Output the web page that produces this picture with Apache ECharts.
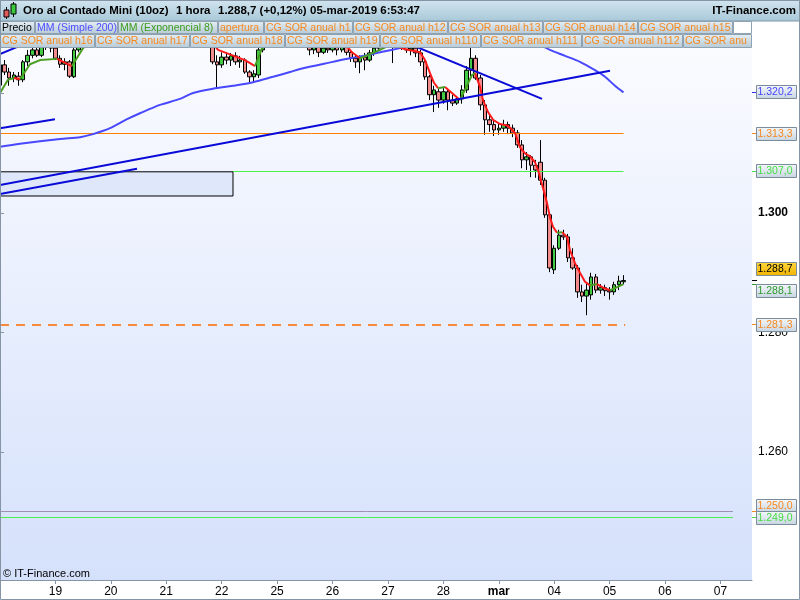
<!DOCTYPE html>
<html><head><meta charset="utf-8">
<script src="https://cdn.jsdelivr.net/npm/echarts@6/dist/echarts.min.js"></script>
<style>html,body{margin:0;padding:0;background:#fff}#c{width:800px;height:600px}</style>
</head><body><div id="c"></div>
<script>
// ---------------- DATA ----------------
const dayLabels = ['18','19','20','21','22','25','26','27','28','mar','04','05','06','07'];
const dayTicks = [1,2,3,4,5,6,7,8,9,10,11,12,13];
const barsPerDay = 12;
// [open, close, low, high]
const candles = [
[1321.4,1324.8,1320.9,1325.3],[1324.8,1323.6,1323.1,1325.6],[1323.6,1322.6,1321.3,1324.3],[1322.6,1323.1,1321.9,1323.6],
[1322.9,1322.3,1321.3,1323.6],[1322.3,1325.3,1321.9,1325.6],[1325.3,1326.4,1324.6,1327.3],[1326.4,1327.3,1325.9,1328.1],
[1327.3,1326.4,1326.1,1328.3],[1326.4,1328.1,1326.1,1329.0],[1328.1,1329.0,1327.3,1329.8],[1329.0,1327.6,1326.9,1329.6],
[1327.6,1325.9,1325.6,1328.1],[1325.9,1324.9,1324.3,1326.4],[1324.9,1325.3,1323.9,1325.9],[1325.3,1322.9,1322.6,1325.6],
[1322.8,1327.3,1322.6,1328.0],[1327.3,1329.0,1326.9,1329.8],[1329.0,1329.8,1328.4,1330.4],[1329.8,1329.4,1328.8,1330.6],
[1329.4,1330.5,1329.0,1331.0],[1330.5,1331.2,1330.0,1331.8],[1331.2,1330.8,1330.2,1331.6],[1330.8,1331.8,1330.4,1332.4],
[1331.8,1332.6,1331.2,1333.0],[1332.6,1332.0,1331.4,1333.2],[1332.0,1333.0,1331.6,1333.6],[1333.0,1333.8,1332.4,1334.4],
[1333.8,1333.2,1332.6,1334.2],[1333.2,1334.0,1332.8,1334.6],[1334.0,1333.4,1332.6,1334.4],[1333.4,1332.6,1332.0,1333.8],
[1332.6,1333.0,1331.8,1333.6],[1333.0,1332.2,1331.6,1333.4],[1332.2,1331.6,1331.0,1332.6],[1331.6,1332.0,1331.0,1332.6],
[1332.0,1331.2,1330.6,1332.4],[1331.2,1330.6,1330.0,1331.6],[1330.6,1331.0,1330.0,1331.6],[1331.0,1330.4,1329.8,1331.4],
[1330.4,1329.8,1329.2,1330.8],[1329.8,1330.2,1329.2,1330.8],[1330.2,1329.6,1329.0,1330.6],[1329.6,1329.0,1328.4,1330.0],
[1329.0,1329.4,1328.4,1330.0],[1329.4,1328.1,1327.9,1329.8],[1328.1,1325.3,1324.9,1329.0],[1325.3,1324.8,1320.9,1326.4],
[1324.8,1326.1,1324.3,1326.9],[1326.1,1325.6,1324.9,1326.9],[1325.6,1326.3,1324.6,1326.8],[1326.3,1325.3,1324.8,1326.9],
[1325.3,1325.6,1324.3,1326.3],[1325.6,1323.6,1323.3,1325.9],[1323.6,1322.8,1321.6,1323.9],[1322.8,1323.3,1321.8,1323.9],
[1323.1,1327.3,1322.6,1328.1],[1327.3,1329.0,1326.9,1329.8],[1329.0,1329.8,1328.4,1330.4],[1329.8,1330.6,1329.2,1331.2],
[1330.6,1330.0,1329.4,1331.2],[1330.0,1331.0,1329.6,1331.6],[1331.0,1330.4,1329.8,1331.4],[1330.4,1329.6,1329.0,1330.8],
[1329.6,1330.0,1328.8,1330.6],[1330.0,1329.2,1328.6,1330.4],[1329.2,1328.1,1327.8,1329.6],[1328.1,1327.3,1326.4,1329.0],
[1327.3,1327.8,1326.6,1328.3],[1327.8,1326.9,1326.1,1328.3],[1326.9,1327.6,1326.6,1328.1],[1327.6,1327.3,1326.8,1328.3],
[1327.3,1328.0,1326.9,1328.6],[1328.0,1327.3,1326.4,1328.6],[1327.3,1328.1,1326.9,1329.0],[1328.1,1326.9,1326.4,1328.6],
[1326.9,1325.9,1325.3,1327.3],[1325.9,1325.3,1324.3,1326.4],[1325.3,1326.1,1323.4,1326.4],[1326.1,1325.6,1323.9,1326.8],
[1325.6,1326.8,1325.3,1327.3],[1326.8,1327.6,1326.3,1328.3],[1327.6,1328.6,1327.3,1329.3],[1328.6,1329.2,1328.0,1329.8],
[1329.2,1328.8,1327.8,1329.8],[1328.8,1328.1,1325.1,1329.6],[1328.1,1328.6,1327.6,1329.3],[1328.6,1328.0,1327.3,1329.3],
[1328.0,1327.3,1326.8,1328.6],[1327.3,1327.6,1326.4,1328.1],[1327.6,1326.8,1326.1,1328.1],[1326.8,1325.3,1324.6,1327.3],
[1325.3,1322.8,1322.3,1325.6],[1322.8,1319.8,1318.9,1323.1],[1319.8,1320.6,1316.9,1321.3],[1320.3,1318.9,1317.6,1320.9],
[1318.9,1320.3,1318.3,1320.9],[1320.3,1318.9,1317.2,1320.6],[1318.9,1318.4,1317.9,1319.8],[1318.4,1319.1,1318.1,1319.6],
[1319.1,1320.6,1318.3,1321.4],[1320.6,1323.9,1320.1,1324.6],[1323.9,1325.9,1322.9,1327.8],[1325.9,1322.6,1322.3,1326.4],
[1322.6,1318.1,1317.2,1323.1],[1318.1,1315.6,1313.1,1318.9],[1315.6,1314.8,1313.6,1316.4],[1314.8,1313.9,1312.9,1315.6],
[1313.9,1314.2,1313.1,1314.9],[1314.2,1314.8,1313.6,1315.6],[1314.8,1314.2,1313.2,1315.3],[1314.2,1313.4,1312.7,1314.8],
[1313.4,1311.4,1310.9,1313.9],[1311.4,1308.9,1307.5,1312.2],[1308.9,1309.4,1307.2,1310.2],[1309.4,1308.0,1306.0,1309.7],
[1308.0,1307.2,1305.9,1308.9],[1308.5,1305.5,1304.7,1312.2],[1305.5,1299.7,1299.2,1305.9],[1299.7,1290.8,1290.1,1300.0],
[1290.5,1294.1,1289.8,1294.6],[1294.1,1296.3,1293.8,1297.2],[1296.3,1296.0,1295.5,1297.2],[1296.0,1292.5,1291.8,1296.5],
[1292.5,1290.8,1290.5,1294.1],[1290.8,1286.8,1285.8,1291.3],[1286.8,1286.1,1285.1,1288.0],[1286.1,1287.1,1282.9,1288.3],
[1286.3,1289.3,1285.5,1290.0],[1289.3,1287.1,1286.6,1289.8],[1287.1,1287.5,1286.5,1288.1],[1287.5,1287.0,1286.1,1288.0],
[1287.0,1286.8,1285.5,1287.6],[1286.8,1288.0,1286.3,1288.5],[1288.0,1288.6,1287.1,1289.5],[1288.5,1288.7,1288.1,1289.6]
];
// MM Exponencial 8
const emaDays = [0,0.144,0.253,0.361,0.541,0.722,1.029,1.299,1.498,1.804,2.346,2.887,3.428,3.789,3.934,4.421,4.601,4.728,5.233,5.774,6.225,6.352,6.496,6.857,7.073,7.308,7.579,7.669,7.759,7.831,7.903,8.030,8.300,8.517,8.571,8.661,8.715,8.806,8.896,9.022,9.166,9.293,9.383,9.473,9.563,9.654,9.708,9.798,9.870,9.924,9.978,10.051,10.141,10.231,10.285,10.375,10.465,10.556,10.646,10.772,10.881,11.007,11.115,11.25];
const emaValues = [1320.1,1322.3,1322.6,1322.4,1324.9,1325.6,1325.8,1324.6,1327.6,1329.6,1331.5,1332.3,1331.0,1329.0,1327.3,1325.6,1324.6,1327.6,1329.8,1329.3,1328.3,1326.9,1325.9,1327.3,1328.3,1327.4,1326.9,1325.6,1323.4,1321.8,1320.9,1321.1,1318.9,1323.1,1323.4,1321.1,1318.9,1316.9,1315.6,1314.9,1314.6,1313.4,1311.0,1310.0,1309.5,1308.5,1307.2,1304.2,1301.7,1299.3,1297.7,1296.7,1296.8,1296.0,1293.8,1291.6,1290.0,1288.5,1287.9,1288.1,1287.5,1287.1,1287.5,1288.1];
// MM Simple 200
const smaDays = [0,0.361,1.083,1.444,1.678,1.985,2.292,2.526,2.887,3.248,3.483,3.843,4.204,4.565,4.926,5.233,5.413,6.009,6.315,6.622,6.857,7.218,7.759,8.300,8.842,9.293,9.654,9.924,10.195,10.465,10.736,10.917,11.097,11.25];
const smaValues = [1311.1,1311.6,1312.4,1312.7,1313.2,1314.2,1315.7,1316.7,1318.1,1319.1,1320.1,1320.8,1321.3,1321.9,1322.8,1323.6,1324.1,1325.3,1325.9,1326.4,1326.9,1327.6,1328.6,1329.3,1329.6,1329.3,1328.5,1327.3,1326.3,1325.3,1323.9,1322.8,1321.3,1320.2];
// trend lines: [[day, price], [day, price]]
const trendLines = [
  [[0,1314.2],[0.992,1315.7]],
  [[0,1304.7],[11.007,1323.8]],
  [[0,1303.2],[2.472,1307.4]],
  [[7.308,1328.6],[9.780,1319.1]],
  [[0,1326.6],[0.361,1328.0]]
];
// horizontal levels
const levelValues = [1313.3, 1307.0, 1281.3, 1250.0, 1249.0];
const levelStartDays = [0, 4.204, 0, 0, 0];
const levelEndDays = [11.25, 11.25, 11.28, 13.226, 13.226];
// zone box: [day, price] corners
const zoneBox = [[0,1306.9],[4.204,1302.85]];
const yTickValues = [1260,1280,1300,1320];
const titleParts = ['Oro al Contado Mini (10oz)','1 hora','1.288,7 (+0,12%)','05-mar-2019 6:53:47'];
const legendRow1 = ['Precio','MM (Simple 200)','MM (Exponencial 8)','apertura','CG SOR anual h1','CG SOR anual h12','CG SOR anual h13','CG SOR anual h14','CG SOR anual h15'];
const legendRow2 = ['CG SOR anual h16','CG SOR anual h17','CG SOR anual h18','CG SOR anual h19','CG SOR anual h110','CG SOR anual h111','CG SOR anual h112','CG SOR anual h113'];

// ---------------- STYLE / LAYOUT ----------------
const FONT = '"Liberation Sans", Arial, sans-serif';
const ORANGE = '#f5891f';
const GRID = {left:0, right:48, top:48, bottom:20};
const X_MAX = 13.569, Y_MIN = 1238.58, Y_MAX = 1327.62;
const levelStyles = [
  {color:'#ff7f00', width:1, dash:null},
  {color:'#4cf04c', width:1, dash:null},
  {color:'#f7893a', width:2, dash:[9,7]},
  {color:'#a090b4', width:1, dash:null},
  {color:'#4cf04c', width:1, dash:null}
];
const row1Boxes = [[0,35],[35,118],[118,218],[218,264],[264,353],[353,448],[448,543],[543,638],[638,733]];
const row2Boxes = [[0,95],[95,190],[190,285],[285,380],[380,481],[481,582],[582,683],[683,752]];
const row1Colors = ['#000','#4c4cff','#3c9c1c',ORANGE,ORANGE,ORANGE,ORANGE,ORANGE,ORANGE];
const titleX = [23,176,218,310];

function fmtPrice(v, dec){
  const s = v.toFixed(dec);
  const parts = s.split('.');
  const intS = parts[0].replace(/\B(?=(\d{3})+(?!\d))/g, '.');
  return parts[1] ? intS + ',' + parts[1] : intS;
}
function splitByDirection(xs, ys){
  const up=[], dn=[];
  let i=0;
  while(i<ys.length-1){
    const rising = ys[i+1] >= ys[i];
    const t = rising ? up : dn;
    t.push([xs[i], ys[i]]);
    let j=i;
    while(j<ys.length-1 && (ys[j+1]>=ys[j])===rising){ j++; t.push([xs[j], ys[j]]); }
    t.push([xs[j], null]);
    i=j;
  }
  return {up, dn};
}

const candleData = candles.map((c,i)=>[i/barsPerDay, c[0], c[1], c[2], c[3]]);
const ema = splitByDirection(emaDays, emaValues);
const smaData = smaDays.map((d,i)=>[d, smaValues[i]]);

const series = [];
series.push({type:'line', silent:true, z:1, showSymbol:false, animation:false,
  data: zoneBox, lineStyle:{width:0, opacity:0},
  markArea:{silent:true, itemStyle:{color:'#dfe8fb', borderColor:'#000', borderWidth:1, opacity:1},
    data:[[{coord:zoneBox[0]},{coord:zoneBox[1]}]]}});
series.push({type:'candlestick', z:2, animation:false,
  dimensions:['time','open','close','lowest','highest'],
  encode:{x:'time', y:['open','close','lowest','highest']},
  data: candleData, barWidth:4,
  itemStyle:{color:'#44cc44', color0:'#f28c8c', borderColor:'#000', borderColor0:'#000', borderWidth:1}});
series.push({type:'line', z:3, showSymbol:false, animation:false, data:smaData, smooth:0.3,
  lineStyle:{color:'#4848ff', width:2}});
series.push({type:'line', z:3, showSymbol:false, animation:false, data:ema.dn,
  lineStyle:{color:'#ff1a1a', width:2}});
series.push({type:'line', z:3, showSymbol:false, animation:false, data:ema.up,
  lineStyle:{color:'#4a9e22', width:2}});
trendLines.forEach(tl=>{
  series.push({type:'line', z:4, showSymbol:false, animation:false, silent:true, data:tl,
    lineStyle:{color:'#0a0ad8', width:2}});
});

const chart = echarts.init(document.getElementById('c'), null, {renderer:'canvas'});
chart.setOption({
  animation:false,
  backgroundColor:'#fff',
  textStyle:{fontFamily:FONT},
  grid:{left:GRID.left, right:GRID.right, top:GRID.top, bottom:GRID.bottom, show:true, borderWidth:0,
    backgroundColor:new echarts.graphic.LinearGradient(0,0,0,1,[{offset:0,color:'#fafbff'},{offset:1,color:'#d5e1fb'}])},
  xAxis:{type:'value', min:0, max:X_MAX, position:'bottom',
    axisLine:{show:true, lineStyle:{color:'#8595a5', width:1}},
    axisTick:{show:true, length:4, customValues:dayTicks, lineStyle:{color:'#8595a5'}},
    axisLabel:{customValues:dayTicks, margin:6, color:'#000', fontSize:12, fontFamily:FONT,
      formatter:v=>{ const s = dayLabels[Math.round(v)]; return s==='mar' ? '{b|mar}' : s; },
      rich:{b:{fontWeight:'bold', fontSize:12, color:'#000', fontFamily:FONT}}},
    splitLine:{show:false}},
  yAxis:{type:'value', min:Y_MIN, max:Y_MAX, position:'right', scale:true,
    axisLine:{show:true, lineStyle:{color:'#8595a5', width:1}},
    axisTick:{show:true, length:4, customValues:yTickValues, lineStyle:{color:'#8595a5'}},
    axisLabel:{customValues:yTickValues, margin:6, color:'#000', fontSize:12, fontFamily:FONT,
      formatter:v=>{ const s = fmtPrice(v,0); return (Math.round(v)%50===0) ? '{b|'+s+'}' : s; },
      rich:{b:{fontWeight:'bold', fontSize:12, color:'#000', fontFamily:FONT}}},
    splitLine:{show:false}},
  series: series
});

// ---------------- OVERLAY GRAPHICS ----------------
const G = [];
const crisp = (p, w) => (w % 2 === 1) ? Math.floor(p) + 0.5 : Math.round(p);
// horizontal levels, positioned through the chart's own scales (crisp lines)
levelValues.forEach((v,i)=>{
  const p0 = chart.convertToPixel({gridIndex:0}, [levelStartDays[i], v]);
  const p1 = chart.convertToPixel({gridIndex:0}, [levelEndDays[i], v]);
  const st = levelStyles[i];
  const y = crisp(p0[1], st.width);
  const style = {stroke:st.color, lineWidth:st.width, opacity:1};
  if (st.dash) style.lineDash = st.dash;
  G.push({type:'line', z:2.5, silent:true, shape:{x1:p0[0], y1:y, x2:p1[0], y2:y}, style:style});
});
const boxFill = ()=>new echarts.graphic.LinearGradient(0,0,0,1,[{offset:0,color:'#e6eef4'},{offset:1,color:'#b6cad6'}]);
// header
G.push({type:'rect', z:100, shape:{x:0,y:0,width:800,height:21},
  style:{fill:new echarts.graphic.LinearGradient(0,0,0,1,[{offset:0,color:'#d2e5ef'},{offset:1,color:'#a8c8d8'}]), stroke:'#7f95a5', lineWidth:1}});
// icon
G.push({type:'line', z:101, shape:{x1:6.5,y1:7,x2:6.5,y2:19}, style:{stroke:'#000',lineWidth:1}});
G.push({type:'rect', z:102, shape:{x:4,y:10,width:5,height:7}, style:{fill:'#e05a5a',stroke:'#000',lineWidth:1}});
G.push({type:'line', z:101, shape:{x1:13.5,y1:2,x2:13.5,y2:17}, style:{stroke:'#000',lineWidth:1}});
G.push({type:'rect', z:102, shape:{x:11,y:4,width:5,height:10}, style:{fill:'#3cc83c',stroke:'#000',lineWidth:1}});
titleParts.forEach((t,i)=>{
  G.push({type:'text', z:101, x:titleX[i], y:11, style:{text:t, font:'bold 11.5px '+FONT, fill:'#000', textVerticalAlign:'middle'}});
});
G.push({type:'text', z:101, x:796, y:11, style:{text:'IT-Finance.com', font:'bold 11.5px '+FONT, fill:'#000', textAlign:'right', textVerticalAlign:'middle'}});
// legend rows
function legendRow(names, boxes, colors, y, h){
  names.forEach((n,i)=>{
    const b = boxes[i];
    G.push({type:'rect', z:100, shape:{x:b[0]+0.5,y:y+0.5,width:b[1]-b[0]-1,height:h-1},
      style:{fill:boxFill(), stroke:'#8ea2b2', lineWidth:1}});
    const last = (i === names.length-1) && (b[1] >= 752);
    const st = {text:n, font:'10.5px '+FONT, fill:colors ? colors[i] : ORANGE, textVerticalAlign:'middle'};
    if (last) { st.width = b[1]-b[0]-3; st.overflow = 'truncate'; st.ellipsis = ''; }
    G.push({type:'text', z:101, x:b[0]+2, y:y+h/2+0.5, style:st});
  });
}
G.push({type:'rect', z:99, shape:{x:0,y:21,width:800,height:27}, style:{fill:'#fff'}});
legendRow(legendRow1, row1Boxes, row1Colors, 21, 13);
G.push({type:'rect', z:100, shape:{x:733.5,y:21.5,width:18,height:12}, style:{fill:'#fff', stroke:'#8ea2b2', lineWidth:1}});
legendRow(legendRow2, row2Boxes, null, 34, 14);
// copyright
G.push({type:'text', z:101, x:3, y:574, style:{text:'\u00a9 IT-Finance.com', font:'11px '+FONT, fill:'#000', textVerticalAlign:'middle'}});

// price tags on the right axis
const lastClose = candles[candles.length-1][1];
const tagValues = [smaValues[smaValues.length-1], levelValues[0], levelValues[1], lastClose, emaValues[emaValues.length-1], levelValues[2], levelValues[3], levelValues[4]];
const tagColors = ['#4646ff', ORANGE, '#44dd44', '#000', '#2e9a2e', ORANGE, ORANGE, '#44dd44'];
const tickColors = ['#3030ff', ORANGE, '#44dd44', '#000', '#2e9a2e', ORANGE, ORANGE, '#44dd44'];
const tagOffsets = [0,0,0,-12,7,0,-6,0];
tagValues.forEach((v,i)=>{
  const py = chart.convertToPixel({yAxisIndex:0}, v);
  const cy = Math.round(py + tagOffsets[i]);
  G.push({type:'line', z:101, shape:{x1:752,y1:Math.floor(py)+0.5,x2:757,y2:Math.floor(py)+0.5}, style:{stroke:tickColors[i], lineWidth:1}});
  const gold = (i===3);
  G.push({type:'rect', z:102, shape:{x:756.5,y:cy-6.5,width:40,height:13},
    style:{fill: gold ? new echarts.graphic.LinearGradient(0,0,0,1,[{offset:0,color:'#ffd640'},{offset:1,color:'#f2b400'}])
                     : new echarts.graphic.LinearGradient(0,0,0,1,[{offset:0,color:'#f6f8fb'},{offset:1,color:'#c6d4e0'}]),
      stroke:'#7a8c9c', lineWidth:1}});
  G.push({type:'text', z:103, x:757.5, y:cy+0.5, style:{text:fmtPrice(v,1), font:'10.5px '+FONT, fill:tagColors[i], textVerticalAlign:'middle'}});
});
// outer frame
G.push({type:'rect', z:104, shape:{x:0.5,y:0.5,width:799,height:599}, style:{fill:'none', stroke:'#8595a5', lineWidth:1}});

chart.setOption({graphic:{elements:G}});
</script>
</body></html>
